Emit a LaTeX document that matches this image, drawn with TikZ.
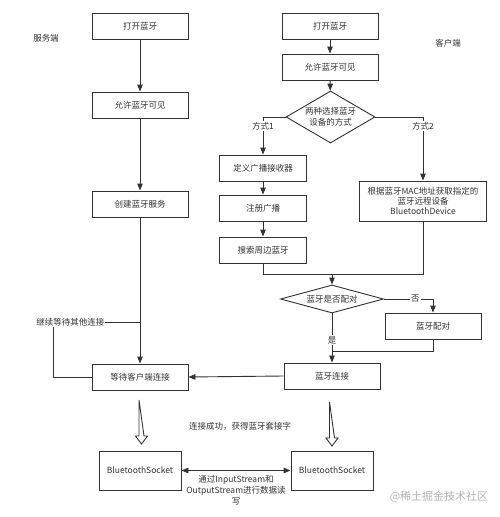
\documentclass[tikz,border=0pt]{standalone}
\usepackage{fontspec}
\setmainfont{Noto Sans CJK SC}
\usetikzlibrary{shapes.geometric,arrows.meta}
\definecolor{linec}{HTML}{333333}
\definecolor{txtc}{HTML}{333333}
\definecolor{markc}{HTML}{B4B4B4}
\begin{document}
\begin{tikzpicture}[
        x=1pt,y=-1pt,
        every node/.style={font=\fontsize{8.5}{11}\selectfont, text=txtc},
        >={Triangle[length=7pt,width=5.5pt]},
        box/.style={draw=linec, line width=0.9pt, fill=white, minimum width=96, minimum height=26, inner sep=2pt, align=center},
        choice/.style={draw=linec, line width=0.9pt, fill=white, diamond, inner sep=0pt, align=center},
        line/.style={draw=linec, line width=0.9pt},
        arr/.style={line, ->},
        lbl/.style={fill=white, inner sep=1pt},
        hollow/.pic={\draw[line, fill=white] (-2.5,0) -- (-2.5,36) -- (-6,36) -- (0,44) -- (6,36) -- (2.5,36) -- cycle;}
    ]
    \useasboundingbox (0,0) rectangle (500,517);

    % server
    \node at (46,38) {服务端};
    \node[box] (s1) at (140,26) {打开蓝牙};
    \node[box] (s2) at (140,105) {允许蓝牙可见};
    \node[box] (s3) at (140,204) {创建蓝牙服务};
    \node[box] (swait) at (140,377) {等待客户端连接};
    \node[box, minimum width=82, minimum height=39] (ssock) at (140,470.5) {BluetoothSocket};

    \draw[arr] (s1) -- (s2);
    \draw[arr] (s2) -- (s3);
    \draw[arr] (s3) -- (swait);
    \coordinate (sloopl) at (53,322);
    \coordinate (sloopr) at (140,322);
    \draw[line] (swait.west) -| (sloopl) -- node[lbl, pos=0.2] {继续等待其他连接} (sloopr);

    % client
    \node at (448,43) {客户端};
    \node[box] (c1) at (330,26) {打开蓝牙};
    \node[box] (c2) at (330,67) {允许蓝牙可见};
    \node[choice, minimum width=89, minimum height=52, aspect=1.7] (cdia) at (330.5,117) {两种选择蓝牙\\设备的方式};
    \node[box, minimum width=87] (cdef) at (263,168) {定义广播接收器};
    \node[box, minimum width=87] (creg) at (263,208) {注册广播};
    \node[box, minimum width=87] (cscan) at (263,250) {搜索周边蓝牙};
    \node[box, minimum width=127, minimum height=40, font=\fontsize{8.5}{10}\selectfont] (cmac) at (423,201) {根据蓝牙MAC地址获取指定的\\蓝牙远程设备\\BluetoothDevice};
    \node[choice, minimum width=103, minimum height=28, aspect=3.7] (cpair) at (332,299) {蓝牙是否配对};
    \node[box] (cbond) at (433,326) {蓝牙配对};
    \node[box] (cconn) at (332,376) {蓝牙连接};
    \node[box, minimum width=82, minimum height=39] (csock) at (332,470.5) {BluetoothSocket};

    \draw[arr] (c1) -- (c2);
    \draw[arr] (c2) -- (cdia);
    \draw[arr] (cdia.west) -| node[lbl, pos=0.62] {方式1} (cdef);
    \draw[arr] (cdia.east) -| node[lbl, pos=0.57] {方式2} (cmac);
    \draw[arr] (cdef) -- (creg);
    \draw[arr] (creg) -- (cscan);
    \coordinate (cjoin) at (332,274);
    \draw[line] (cscan.south) |- (cjoin);
    \draw[line] (cmac.south) |- (cjoin);
    \draw[arr] (cjoin) -- (cpair);
    \draw[arr] (cpair.east) -| node[lbl, pos=0.32] {否} (cbond);
    \draw[arr] (cpair.south) -- node[lbl, pos=0.54] {是} (cconn);
    \coordinate (cjoin2) at (332,351);
    \draw[line] (cbond.south) |- (cjoin2);
    \draw[arr] (cconn.west) -- (swait.east);

    % sockets
    \pic at (141.5,400) {hollow};
    \pic at (332,402) {hollow};
    \node at (240,426) {连接成功，获得蓝牙套接字};
    \draw[line, <->] (ssock.east) -- node[below=1pt, align=center] {通过InputStream和\\OutputStream进行数据读\\写} (csock.west);

    \node[text=markc, font=\fontsize{11}{13}\selectfont] at (439,497) {@稀土掘金技术社区};
\end{tikzpicture}
\end{document}
